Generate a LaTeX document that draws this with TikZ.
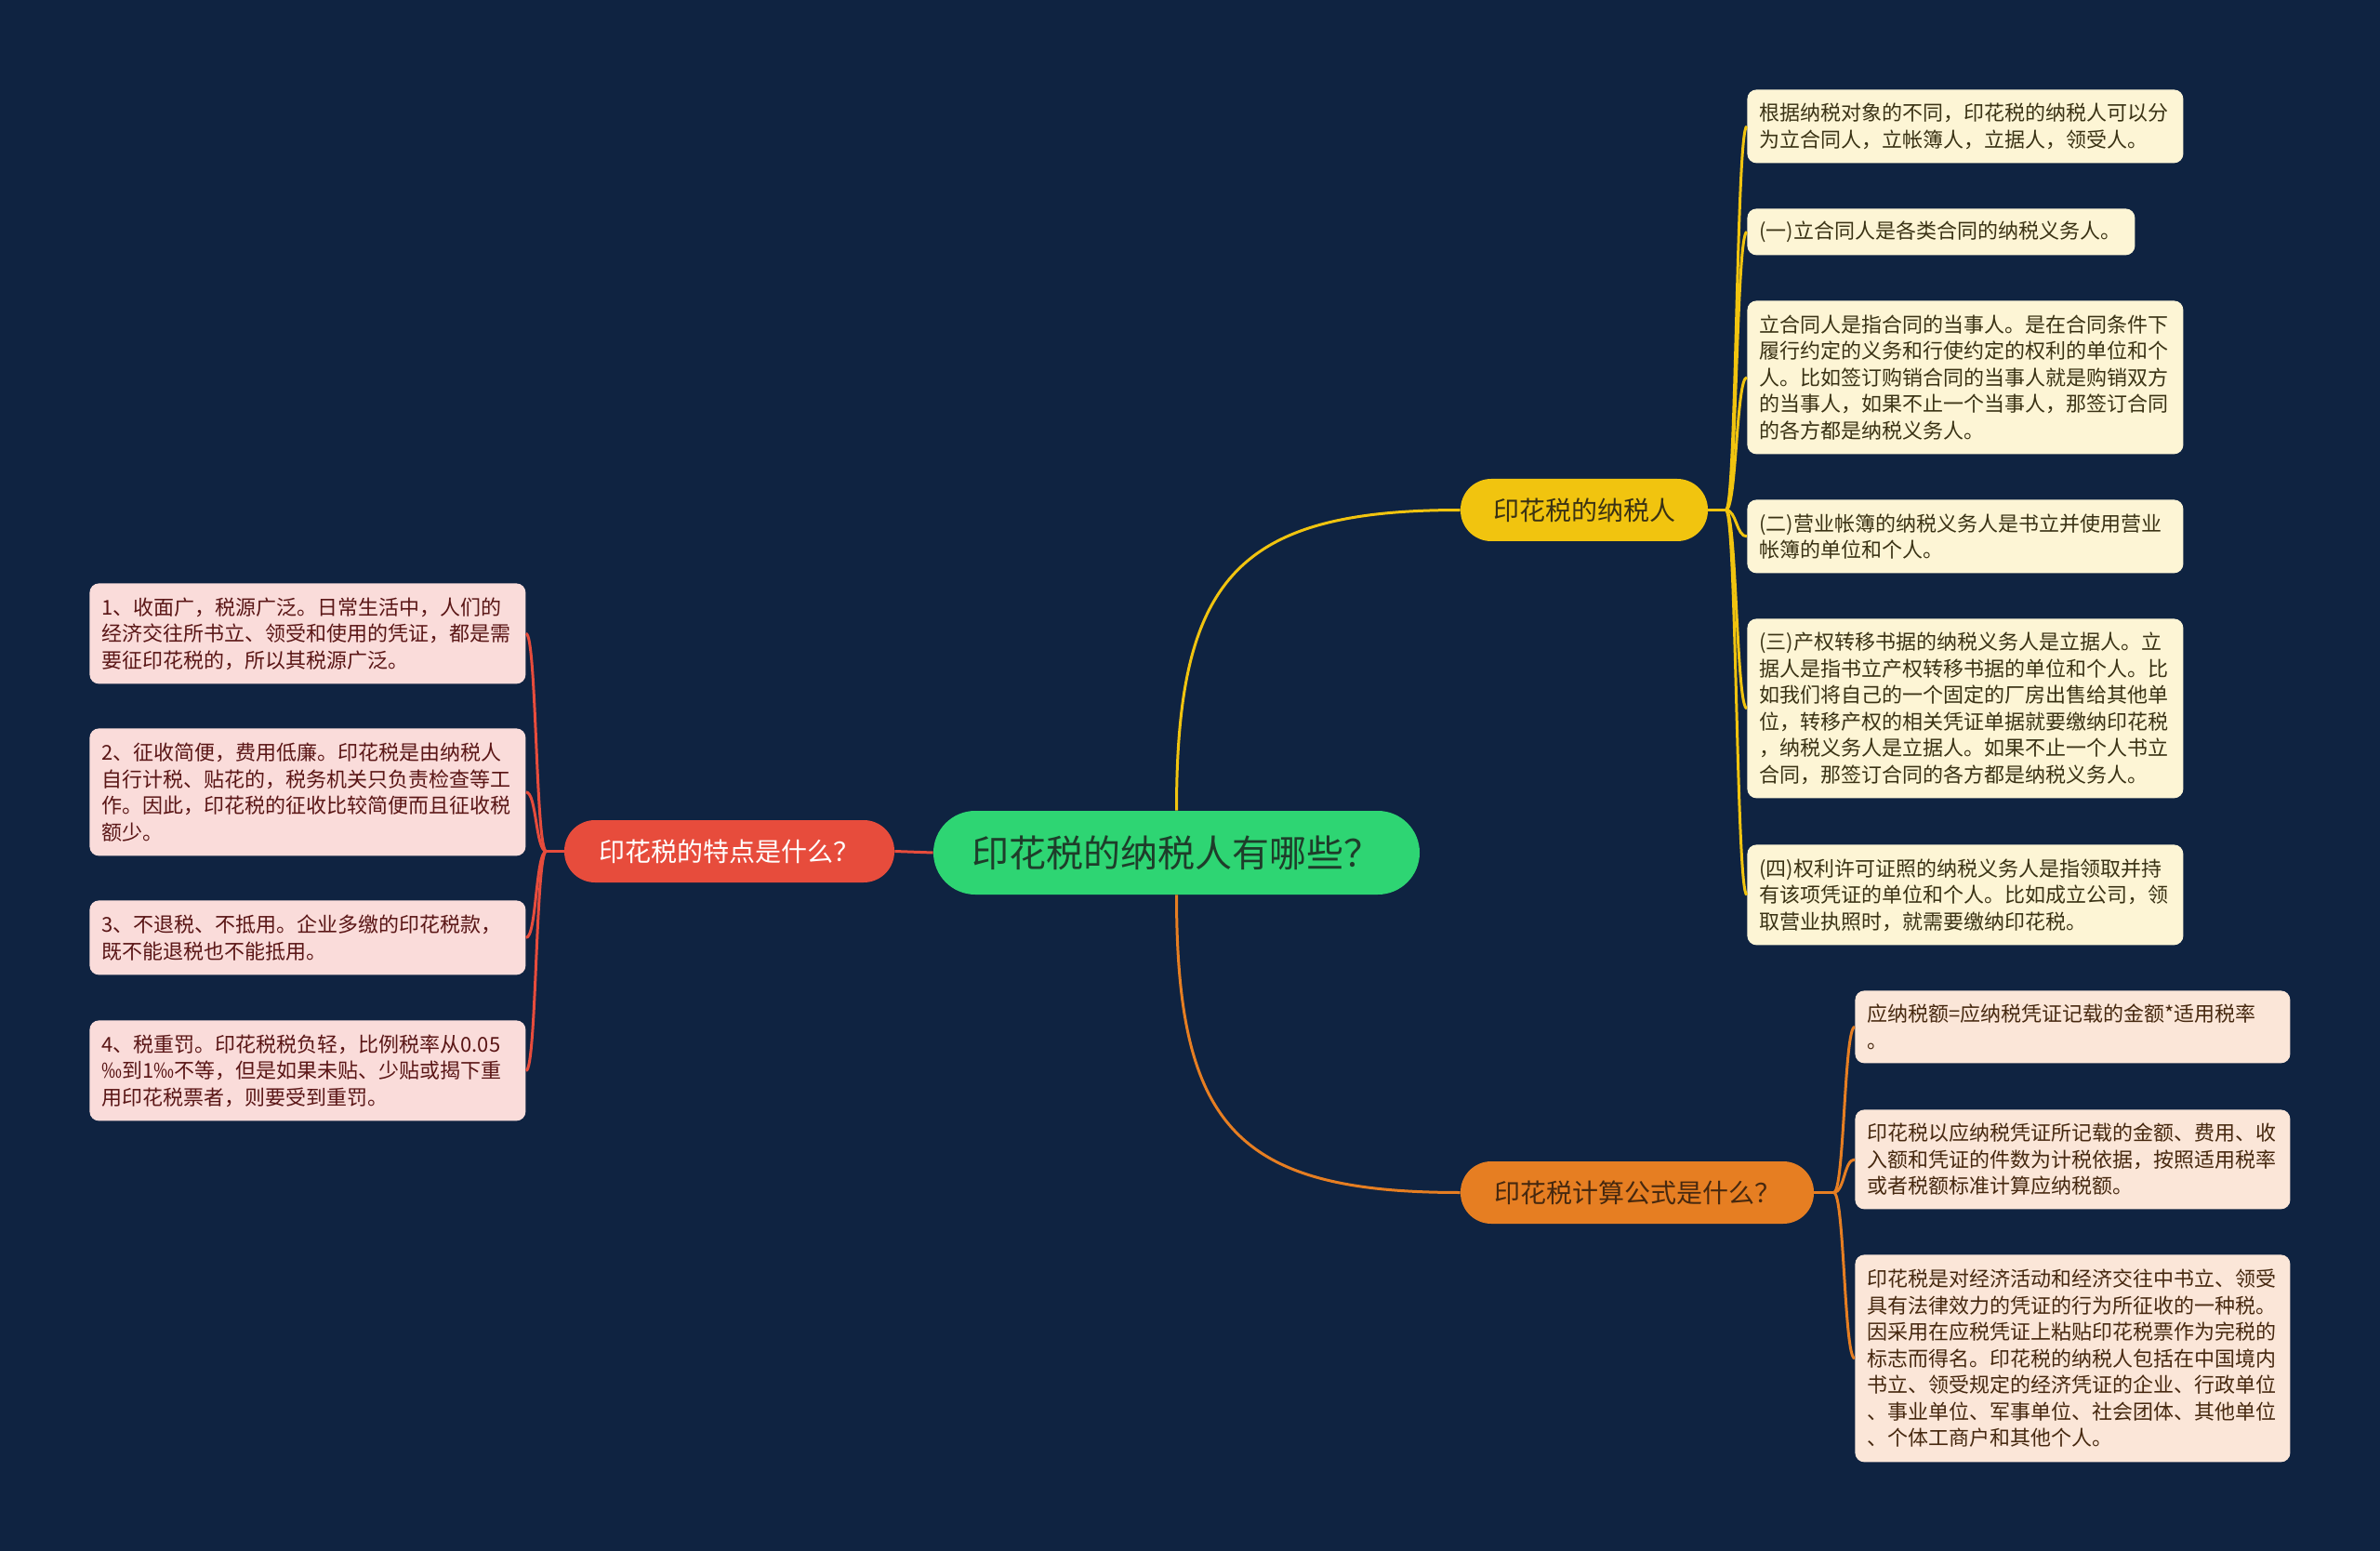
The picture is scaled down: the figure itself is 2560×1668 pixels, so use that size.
\documentclass[tikz,border=0pt]{standalone}
\usepackage{fontspec}
\setmainfont{Noto Sans CJK SC}
\usetikzlibrary{calc}
\definecolor{bgc}{HTML}{0F2341}
\definecolor{cgreen}{HTML}{2ED573}
\definecolor{ctext}{HTML}{1E3D2A}
\definecolor{cred}{HTML}{E74C3C}
\definecolor{cyel}{HTML}{F1C40F}
\definecolor{cora}{HTML}{E67E22}
\definecolor{ycream}{HTML}{FDF5D5}
\definecolor{ytext}{HTML}{3A3214}
\definecolor{opeach}{HTML}{FBE6D8}
\definecolor{otext}{HTML}{46280F}
\definecolor{lpink}{HTML}{FADCDA}
\definecolor{ltext}{HTML}{5A1616}
\begin{document}
\begin{tikzpicture}[x=0.5pt,y=-0.5pt,
  pill/.style={rounded corners=16.5pt, minimum height=33.5pt, inner sep=0pt, font=\fontsize{14}{16}\selectfont},
  box/.style={rounded corners=5pt, anchor=north west, align=left, inner xsep=6.5pt, inner ysep=0pt, font=\fontsize{11}{14.25}\selectfont},
  ybox/.style={box, fill=ycream, text=ytext},
  obox/.style={box, fill=opeach, text=otext},
  lbox/.style={box, fill=lpink, text=ltext},
  sconn/.style={to path={.. controls ($(\tikztostart)+(#1,0)$) and ($(\tikztotarget)-(#1,0)$) .. (\tikztotarget)}},
  yl/.style={draw=cyel, line width=1.5pt},
  ol/.style={draw=cora, line width=1.5pt},
  rl/.style={draw=cred, line width=1.5pt}
]
\fill[bgc] (0,0) rectangle (2560,1668);
\useasboundingbox (0,0) rectangle (2560,1668);

% main nodes
\node[fill=cgreen, text=ctext, rounded corners=22.5pt, minimum width=261.5pt, minimum height=45pt, inner sep=0pt, font=\fontsize{20}{22}\selectfont] (c) at (1265.5,917) {印花税的纳税人有哪些？};
\node[pill, fill=cred, text=white, minimum width=177.5pt] (r) at (784.5,915.5) {印花税的特点是什么？};
\node[pill, fill=cyel, text=ytext, minimum width=133pt] (y) at (1704,548.5) {印花税的纳税人};
\node[pill, fill=cora, text=otext, minimum width=190pt] (o) at (1761,1282.5) {印花税计算公式是什么？};

% yellow children
\node[ybox, text width=221.5pt, minimum height=39.5pt] (y1) at (1879,96) {根据纳税对象的不同，印花税的纳税人可以分\\为立合同人，立帐簿人，立据人，领受人。};
\node[ybox, text width=195.5pt, minimum height=25pt] (y2) at (1879,224) {(一)立合同人是各类合同的纳税义务人。};
\node[ybox, text width=221.5pt, minimum height=82.5pt] (y3) at (1879,323) {立合同人是指合同的当事人。是在合同条件下\\履行约定的义务和行使约定的权利的单位和个\\人。比如签订购销合同的当事人就是购销双方\\的当事人，如果不止一个当事人，那签订合同\\的各方都是纳税义务人。};
\node[ybox, text width=221.5pt, minimum height=39.5pt] (y4) at (1879,537) {(二)营业帐簿的纳税义务人是书立并使用营业\\帐簿的单位和个人。};
\node[ybox, text width=221.5pt, minimum height=96.5pt] (y5) at (1879,665) {(三)产权转移书据的纳税义务人是立据人。立\\据人是指书立产权转移书据的单位和个人。比\\如我们将自己的一个固定的厂房出售给其他单\\位，转移产权的相关凭证单据就要缴纳印花税\\，纳税义务人是立据人。如果不止一个人书立\\合同，那签订合同的各方都是纳税义务人。};
\node[ybox, text width=221.5pt, minimum height=54pt] (y6) at (1879,908) {(四)权利许可证照的纳税义务人是指领取并持\\有该项凭证的单位和个人。比如成立公司，领\\取营业执照时，就需要缴纳印花税。};

% orange children
\node[obox, text width=221pt, minimum height=39pt] (o1) at (1995,1065) {应纳税额=应纳税凭证记载的金额*适用税率\\。};
\node[obox, text width=221pt, minimum height=53.5pt] (o2) at (1995,1193) {印花税以应纳税凭证所记载的金额、费用、收\\入额和凭证的件数为计税依据，按照适用税率\\或者税额标准计算应纳税额。};
\node[obox, text width=221pt, minimum height=111.5pt] (o3) at (1995,1349) {印花税是对经济活动和经济交往中书立、领受\\具有法律效力的凭证的行为所征收的一种税。\\因采用在应税凭证上粘贴印花税票作为完税的\\标志而得名。印花税的纳税人包括在中国境内\\书立、领受规定的经济凭证的企业、行政单位\\、事业单位、军事单位、社会团体、其他单位\\、个体工商户和其他个人。};

% red children
\node[lbox, text width=221.5pt, minimum height=54pt] (l1) at (96,627) {1、收面广，税源广泛。日常生活中，人们的\\经济交往所书立、领受和使用的凭证，都是需\\要征印花税的，所以其税源广泛。};
\node[lbox, text width=221.5pt, minimum height=68.5pt] (l2) at (96,783) {2、征收简便，费用低廉。印花税是由纳税人\\自行计税、贴花的，税务机关只负责检查等工\\作。因此，印花税的征收比较简便而且征收税\\额少。};
\node[lbox, text width=221.5pt, minimum height=40pt] (l3) at (96,968) {3、不退税、不抵用。企业多缴的印花税款，\\既不能退税也不能抵用。};
\node[lbox, text width=221.5pt, minimum height=54pt] (l4) at (96,1097) {4、税重罚。印花税税负轻，比例税率从0.05\\‰到1‰不等，但是如果未贴、少贴或揭下重\\用印花税票者，则要受到重罚。};

% main connectors
\draw[rl] (c.west) -- (r.east);
\draw[yl] (c.north) .. controls ($(c.north)+(0,-250)$) and ($(y.west)+(-240,0)$) .. (y.west);
\draw[ol] (c.south) .. controls ($(c.south)+(0,250)$) and ($(o.west)+(-240,0)$) .. (o.west);

% yellow branch
\draw[yl] (y.east) -- ++(19,0) coordinate (ys);
\foreach \n in {y1,y2,y3,y4,y5,y6} \draw[yl] (ys) to[sconn=11.5] (\n.west);
% orange branch
\draw[ol] (o.east) -- ++(21,0) coordinate (os);
\foreach \n in {o1,o2,o3} \draw[ol] (os) to[sconn=11.5] (\n.west);
% red branch
\draw[rl] (r.west) -- ++(-19,0) coordinate (rs);
\foreach \n in {l1,l2,l3,l4} \draw[rl] (rs) to[sconn=-11.5] (\n.east);
\end{tikzpicture}
\end{document}
